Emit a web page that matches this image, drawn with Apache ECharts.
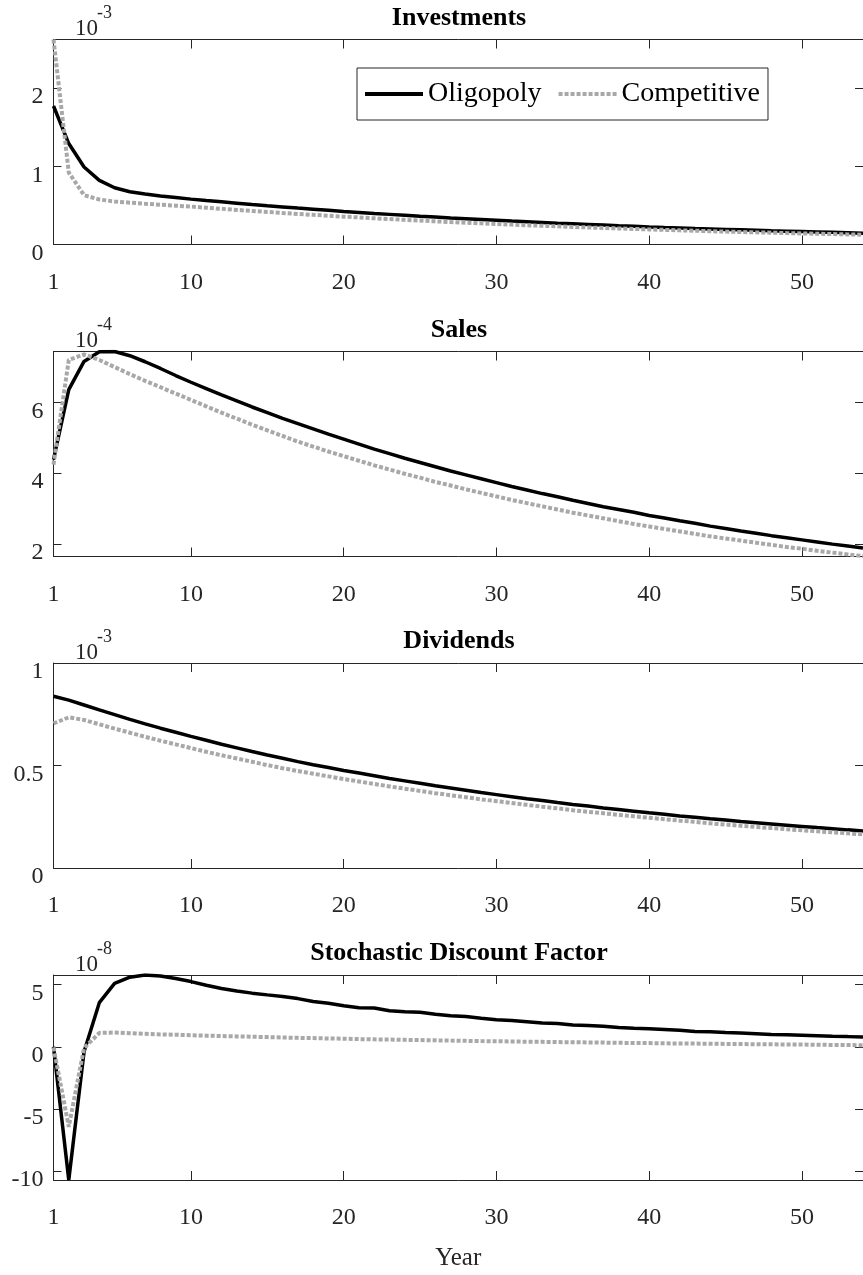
<!DOCTYPE html>
<html>
<head>
<meta charset="utf-8">
<script src="https://cdn.jsdelivr.net/npm/echarts@6/dist/echarts.min.js"></script>
<style>
  html, body { margin: 0; padding: 0; background: #fff; }
  #chart { width: 863px; height: 1275px; }
</style>
</head>
<body>
<div id="chart"></div>
<script>
// years on the x axis
var years = [1,2,3,4,5,6,7,8,9,10,11,12,13,14,15,16,17,18,19,20,21,22,23,24,25,26,27,
  28,29,30,31,32,33,34,35,36,37,38,39,40,41,42,43,44,45,46,47,48,49,50,51,52,53,54];
var yearTicks = [1, 10, 20, 30, 40, 50];

// Investments (x 10^-3)
var invOligopoly = [1.77,1.29,0.99,0.82,0.725,0.675,0.645,0.62,0.60,0.58,0.562,0.545,0.528,0.511,
  0.495,0.480,0.465,0.451,0.437,0.423,0.410,0.397,0.385,0.373,0.361,0.350,0.339,0.329,0.319,0.309,
  0.299,0.290,0.281,0.272,0.264,0.256,0.248,0.240,0.233,0.225,0.218,0.212,0.205,0.199,0.193,0.187,
  0.181,0.175,0.170,0.165,0.160,0.155,0.150,0.145];
var invCompetitive = [2.62,0.92,0.63,0.575,0.55,0.535,0.52,0.508,0.496,0.485,0.470,0.456,0.442,0.429,
  0.416,0.403,0.391,0.379,0.368,0.356,0.346,0.335,0.325,0.315,0.306,0.296,0.287,0.279,0.270,0.262,
  0.254,0.246,0.239,0.232,0.225,0.218,0.211,0.205,0.199,0.193,0.187,0.181,0.176,0.170,0.165,0.160,
  0.155,0.151,0.146,0.142,0.137,0.133,0.129,0.125];
var invTicks = [0, 1, 2];

// Sales (x 10^-4)
var salesOligopoly = [4.38,6.36,7.16,7.43,7.44,7.32,7.15,6.96,6.76,6.57,6.39,6.21,6.04,5.87,5.71,5.55,
  5.40,5.25,5.10,4.96,4.82,4.68,4.55,4.42,4.30,4.18,4.06,3.95,3.84,3.73,3.62,3.52,3.42,3.33,3.23,3.14,
  3.05,2.97,2.89,2.80,2.73,2.65,2.58,2.50,2.43,2.36,2.30,2.23,2.17,2.11,2.05,1.99,1.94,1.88];
var salesCompetitive = [4.24,7.20,7.36,7.20,7.00,6.80,6.61,6.43,6.25,6.07,5.89,5.71,5.54,5.37,5.21,5.05,
  4.89,4.75,4.61,4.48,4.35,4.22,4.10,3.98,3.87,3.75,3.65,3.54,3.44,3.34,3.24,3.15,3.06,2.97,2.88,2.80,
  2.72,2.64,2.56,2.49,2.42,2.35,2.28,2.21,2.15,2.09,2.03,1.97,1.91,1.86,1.80,1.75,1.70,1.65];
var salesTicks = [2, 4, 6];

// Dividends (x 10^-3)
var divOligopoly = [0.838,0.819,0.795,0.771,0.748,0.725,0.703,0.682,0.662,0.642,0.623,0.604,0.586,0.568,
  0.551,0.535,0.519,0.504,0.490,0.476,0.463,0.450,0.437,0.425,0.413,0.401,0.390,0.379,0.368,0.358,
  0.348,0.338,0.329,0.319,0.310,0.302,0.293,0.285,0.277,0.269,0.262,0.254,0.247,0.240,0.234,0.227,
  0.221,0.215,0.209,0.203,0.197,0.192,0.186,0.181];
var divCompetitive = [0.705,0.735,0.722,0.701,0.680,0.660,0.640,0.621,0.603,0.585,0.567,0.550,0.534,0.518,
  0.502,0.487,0.473,0.460,0.447,0.434,0.422,0.410,0.398,0.387,0.376,0.365,0.355,0.345,0.335,0.326,
  0.317,0.308,0.299,0.291,0.282,0.274,0.267,0.259,0.252,0.245,0.238,0.231,0.225,0.218,0.212,0.206,
  0.200,0.195,0.189,0.184,0.179,0.174,0.169,0.164];
var divTicks = [0, 0.5, 1];

// Stochastic discount factor (x 10^-8)
var sdfOligopoly = [0.0,-10.72,-0.4,3.55,5.10,5.60,5.78,5.70,5.50,5.25,4.95,4.70,4.50,4.32,4.18,4.05,
  3.88,3.65,3.50,3.30,3.15,3.12,2.90,2.82,2.78,2.62,2.50,2.44,2.30,2.18,2.12,2.02,1.92,1.88,1.76,1.72,
  1.66,1.56,1.50,1.46,1.40,1.33,1.24,1.22,1.16,1.12,1.06,1.00,0.98,0.94,0.90,0.85,0.82,0.78];
var sdfCompetitive = [-0.05,-6.44,-0.10,1.12,1.15,1.10,1.05,1.00,0.97,0.93,0.90,0.87,0.84,0.81,0.78,0.75,
  0.72,0.70,0.67,0.65,0.62,0.60,0.58,0.56,0.54,0.52,0.50,0.48,0.46,0.45,0.43,0.41,0.40,0.38,0.37,0.35,
  0.34,0.32,0.31,0.30,0.28,0.27,0.26,0.25,0.23,0.22,0.21,0.20,0.19,0.18,0.17,0.15,0.14,0.13];
var sdfTicks = [-10, -5, 0, 5];

var FONT = '"Liberation Serif", "Times New Roman", serif';
var AXIS = '#262626';
var GRAY = '#a8a8a8';

var panels = [
  { title: 'Investments', top: 39.5, exp: '-3', min: 0, max: 2.62, ticks: invTicks, olig: invOligopoly, comp: invCompetitive },
  { title: 'Sales', top: 351.5, exp: '-4', min: 1.64, max: 7.44, ticks: salesTicks, olig: salesOligopoly, comp: salesCompetitive },
  { title: 'Dividends', top: 663, exp: '-3', min: 0, max: 1, ticks: divTicks, olig: divOligopoly, comp: divCompetitive },
  { title: 'Stochastic Discount Factor', top: 975, exp: '-8', min: -10.72, max: 5.78, ticks: sdfTicks, olig: sdfOligopoly, comp: sdfCompetitive }
];

function pairs(vals) {
  return years.map(function (y, i) { return [y, vals[i]]; });
}

var chart = echarts.init(document.getElementById('chart'), null, { renderer: 'canvas' });

var grid = [], xAxis = [], yAxis = [], series = [], title = [], graphic = [];

panels.forEach(function (p, i) {
  grid.push({ left: 53.5, top: p.top, width: 810, height: 205 });

  var tickBase = { show: true, inside: true, lineStyle: { color: AXIS, width: 1 } };
  var lineBase = { show: true, onZero: false, lineStyle: { color: AXIS, width: 1 } };

  xAxis.push({
    type: 'value', gridIndex: i, min: 1, max: 54, position: 'bottom',
    axisLine: lineBase,
    axisTick: Object.assign({ length: 9, customValues: yearTicks }, tickBase),
    axisLabel: { customValues: yearTicks, margin: 26, fontSize: 24, fontFamily: FONT, color: AXIS },
    splitLine: { show: false },
    name: i === 3 ? 'Year' : '', nameLocation: 'middle', nameGap: 66,
    nameTextStyle: { fontSize: 25, fontFamily: FONT, color: AXIS }
  });
  xAxis.push({
    type: 'value', gridIndex: i, min: 1, max: 54, position: 'top',
    axisLine: lineBase,
    axisTick: Object.assign({ length: 9, customValues: yearTicks }, tickBase),
    axisLabel: { show: false },
    splitLine: { show: false }
  });
  yAxis.push({
    type: 'value', gridIndex: i, min: p.min, max: p.max, position: 'left',
    axisLine: lineBase,
    axisTick: Object.assign({ length: 8, customValues: p.ticks }, tickBase),
    axisLabel: { customValues: p.ticks, margin: 10, fontSize: 24, fontFamily: FONT, color: AXIS,
      verticalAlign: 'top', lineHeight: 18 },
    splitLine: { show: false }
  });
  yAxis.push({
    type: 'value', gridIndex: i, min: p.min, max: p.max, position: 'right',
    axisLine: lineBase,
    axisTick: Object.assign({ length: 8, customValues: p.ticks }, tickBase),
    axisLabel: { show: false },
    splitLine: { show: false }
  });

  series.push({
    name: 'Oligopoly', type: 'line', xAxisIndex: 2 * i, yAxisIndex: 2 * i,
    data: pairs(p.olig), symbol: 'none', showSymbol: false,
    lineStyle: { color: '#000', width: 3.5 }, itemStyle: { color: '#000' }
  });
  series.push({
    name: 'Competitive', type: 'line', xAxisIndex: 2 * i, yAxisIndex: 2 * i,
    data: pairs(p.comp), symbol: 'none', showSymbol: false,
    lineStyle: { color: GRAY, width: 4, type: [4, 2], cap: 'butt' }, itemStyle: { color: GRAY }
  });

  title.push({
    text: p.title, left: 459, top: p.top - 34.5, textAlign: 'center', padding: 0,
    textStyle: { fontSize: 26, fontWeight: 'bold', fontFamily: FONT, color: '#000' }
  });

  // axis exponent, MATLAB style
  graphic.push({ type: 'text', left: 75, top: p.top - 22,
    style: { text: '10', font: '23px ' + FONT, fill: AXIS } });
  graphic.push({ type: 'text', left: 97, top: p.top - 35,
    style: { text: p.exp, font: '18px ' + FONT, fill: AXIS } });
});

chart.setOption({
  animation: false,
  backgroundColor: '#fff',
  title: title,
  legend: {
    data: ['Oligopoly', 'Competitive'],
    left: 357, top: 68, orient: 'horizontal',
    itemWidth: 58, itemHeight: 14, itemGap: 15,
    padding: [12, 8, 12, 6],
    borderColor: AXIS, borderWidth: 1, backgroundColor: '#fff',
    itemStyle: { color: 'rgba(0,0,0,0)', borderWidth: 0, opacity: 0 },
    lineStyle: { width: 4 },
    textStyle: { fontSize: 28, fontFamily: FONT, color: '#000' }
  },
  grid: grid,
  xAxis: xAxis,
  yAxis: yAxis,
  series: series,
  graphic: graphic
});
</script>
</body>
</html>
